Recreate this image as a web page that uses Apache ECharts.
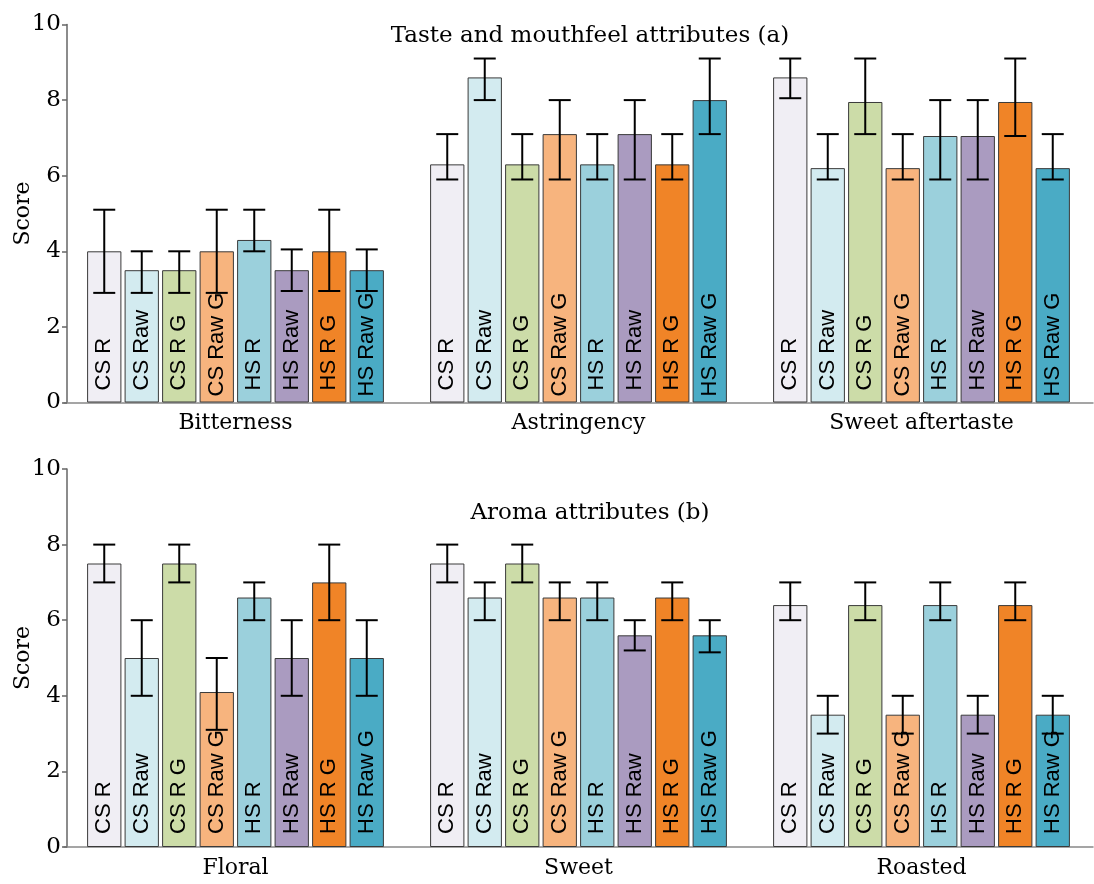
<!DOCTYPE html>
<html>
<head>
<meta charset="utf-8">
<script src="https://cdn.jsdelivr.net/npm/echarts@6/dist/echarts.min.js"></script>
<style>
html,body{margin:0;padding:0;background:#fff;}
#c{width:1094px;height:884px;}
</style>
</head>
<body>
<div id="c"></div>
<script>
// ---- data ----
const seriesNames = ['CS R', 'CS Raw', 'CS R G', 'CS Raw G', 'HS R', 'HS Raw', 'HS R G', 'HS Raw G'];
const colors = ['#f0eef4', '#d3ebf0', '#ccdca8', '#f7b47e', '#9bd0dc', '#aa9bc0', '#f08427', '#4aabc5'];
const tasteCategories = ['Bitterness', 'Astringency', 'Sweet aftertaste'];
const aromaCategories = ['Floral', 'Sweet', 'Roasted'];
const yTicks = [0, 2, 4, 6, 8, 10];

const bitternessMean = [4.0, 3.5, 3.5, 4.0, 4.3, 3.5, 4.0, 3.5];
const bitternessLow  = [2.9, 2.9, 2.9, 2.9, 4.0, 2.95, 2.95, 2.95];
const bitternessHigh = [5.1, 4.0, 4.0, 5.1, 5.1, 4.05, 5.1, 4.05];

const astringencyMean = [6.3, 8.6, 6.3, 7.1, 6.3, 7.1, 6.3, 8.0];
const astringencyLow  = [5.9, 8.0, 5.9, 5.9, 5.9, 5.9, 5.9, 7.1];
const astringencyHigh = [7.1, 9.1, 7.1, 8.0, 7.1, 8.0, 7.1, 9.1];

const aftertasteMean = [8.6, 6.2, 7.95, 6.2, 7.05, 7.05, 7.95, 6.2];
const aftertasteLow  = [8.05, 5.9, 7.1, 5.9, 5.9, 5.9, 7.05, 5.9];
const aftertasteHigh = [9.1, 7.1, 9.1, 7.1, 8.0, 8.0, 9.1, 7.1];

const floralMean = [7.5, 5.0, 7.5, 4.1, 6.6, 5.0, 7.0, 5.0];
const floralLow  = [7.0, 4.0, 7.0, 3.1, 6.0, 4.0, 6.0, 4.0];
const floralHigh = [8.0, 6.0, 8.0, 5.0, 7.0, 6.0, 8.0, 6.0];

const sweetMean = [7.5, 6.6, 7.5, 6.6, 6.6, 5.6, 6.6, 5.6];
const sweetLow  = [7.0, 6.0, 7.0, 6.0, 6.0, 5.2, 6.0, 5.15];
const sweetHigh = [8.0, 7.0, 8.0, 7.0, 7.0, 6.0, 7.0, 6.0];

const roastedMean = [6.4, 3.5, 6.4, 3.5, 6.4, 3.5, 6.4, 3.5];
const roastedLow  = [6.0, 3.0, 6.0, 3.0, 6.0, 3.0, 6.0, 3.0];
const roastedHigh = [7.0, 4.0, 7.0, 4.0, 7.0, 4.0, 7.0, 4.0];

// ---- layout / style ----
const SERIF = 'DejaVu Serif';
const SANS = 'Liberation Sans';
const BAR_W = 34.3;
const GAP = 3.2;
const N = seriesNames.length;
function barOffset(i) {
  const total = N * BAR_W + (N - 1) * GAP;
  return -total / 2 + BAR_W / 2 + i * (BAR_W + GAP);
}

const panels = [
  { means: [bitternessMean, astringencyMean, aftertasteMean],
    lows: [bitternessLow, astringencyLow, aftertasteLow],
    highs: [bitternessHigh, astringencyHigh, aftertasteHigh],
    cats: tasteCategories },
  { means: [floralMean, sweetMean, roastedMean],
    lows: [floralLow, sweetLow, roastedLow],
    highs: [floralHigh, sweetHigh, roastedHigh],
    cats: aromaCategories }
];

const series = [];
panels.forEach((p, gi) => {
  seriesNames.forEach((name, si) => {
    const isRawG = name.indexOf('Raw G') >= 0;
    series.push({
      type: 'bar',
      name: name,
      xAxisIndex: gi,
      yAxisIndex: gi,
      barWidth: BAR_W,
      barGap: (GAP / BAR_W * 100) + '%',
      data: p.means.map(m => m[si]),
      itemStyle: { color: colors[si], borderColor: '#3a3a3a', borderWidth: 1 },
      label: {
        show: true,
        position: 'insideBottom',
        rotate: 90,
        align: 'left',
        verticalAlign: 'middle',
        distance: gi === 0 ? (isRawG ? 6 : 12) : 13,
        formatter: '{a}',
        color: '#000',
        fontFamily: SANS,
        fontSize: 22
      },
      emphasis: { disabled: true },
      animation: false
    });
  });
  const errData = [];
  p.cats.forEach((c, ci) => {
    seriesNames.forEach((name, si) => {
      errData.push([ci, p.lows[ci][si], p.highs[ci][si], si]);
    });
  });
  series.push({
    type: 'custom',
    xAxisIndex: gi,
    yAxisIndex: gi,
    z: 10,
    data: errData,
    encode: { x: 0, y: [1, 2] },
    renderItem: function (params, api) {
      const ci = api.value(0);
      const si = api.value(3);
      const pLow = api.coord([ci, api.value(1)]);
      const pHigh = api.coord([ci, api.value(2)]);
      const x = pLow[0] + barOffset(si);
      const hw = 11;
      const st = { stroke: '#000', lineWidth: 2 };
      return {
        type: 'group',
        children: [
          { type: 'line', shape: { x1: x, y1: pLow[1], x2: x, y2: pHigh[1] }, style: st },
          { type: 'line', shape: { x1: x - hw, y1: pLow[1], x2: x + hw, y2: pLow[1] }, style: st },
          { type: 'line', shape: { x1: x - hw, y1: pHigh[1], x2: x + hw, y2: pHigh[1] }, style: st }
        ]
      };
    },
    animation: false
  });
});

const gridTops = [24.5, 469];
const H = 378;

const option = {
  backgroundColor: '#fff',
  animation: false,
  title: [
    { text: 'Taste and mouthfeel attributes (a)', left: 585, top: 20, textAlign: 'center',
      textStyle: { fontFamily: SERIF, fontSize: 23, fontWeight: 'normal', color: '#000' } },
    { text: 'Aroma attributes (b)', left: 585, top: 497, textAlign: 'center',
      textStyle: { fontFamily: SERIF, fontSize: 23, fontWeight: 'normal', color: '#000' } }
  ],
  grid: gridTops.map(t => ({ left: 64, right: 1, top: t, height: H, containLabel: false, outerBoundsMode: 'none' })),
  xAxis: panels.map((p, gi) => ({
    type: 'category',
    gridIndex: gi,
    data: p.cats,
    axisLine: { lineStyle: { color: '#888', width: 1.5 } },
    axisTick: { show: false },
    axisLabel: { fontFamily: SERIF, fontSize: 22, color: '#000', margin: 10 },
    splitLine: { show: false }
  })),
  yAxis: panels.map((p, gi) => ({
    type: 'value',
    gridIndex: gi,
    offset: -3,
    min: yTicks[0],
    max: yTicks[yTicks.length - 1],
    interval: yTicks[1] - yTicks[0],
    name: 'Score',
    nameLocation: 'middle',
    nameGap: 33,
    nameMoveOverlap: false,
    nameTextStyle: { fontFamily: SERIF, fontSize: 22, color: '#000' },
    axisLine: { show: true, lineStyle: { color: '#666', width: 1.5 } },
    axisTick: { show: true, length: 5, lineStyle: { color: '#666', width: 1.5 } },
    axisLabel: { fontFamily: SERIF, fontSize: 23, color: '#000', margin: 6 },
    splitLine: { show: false }
  })),
  series: series
};

const chart = echarts.init(document.getElementById('c'), null, { renderer: 'canvas' });
chart.setOption(option);
</script>
</body>
</html>
